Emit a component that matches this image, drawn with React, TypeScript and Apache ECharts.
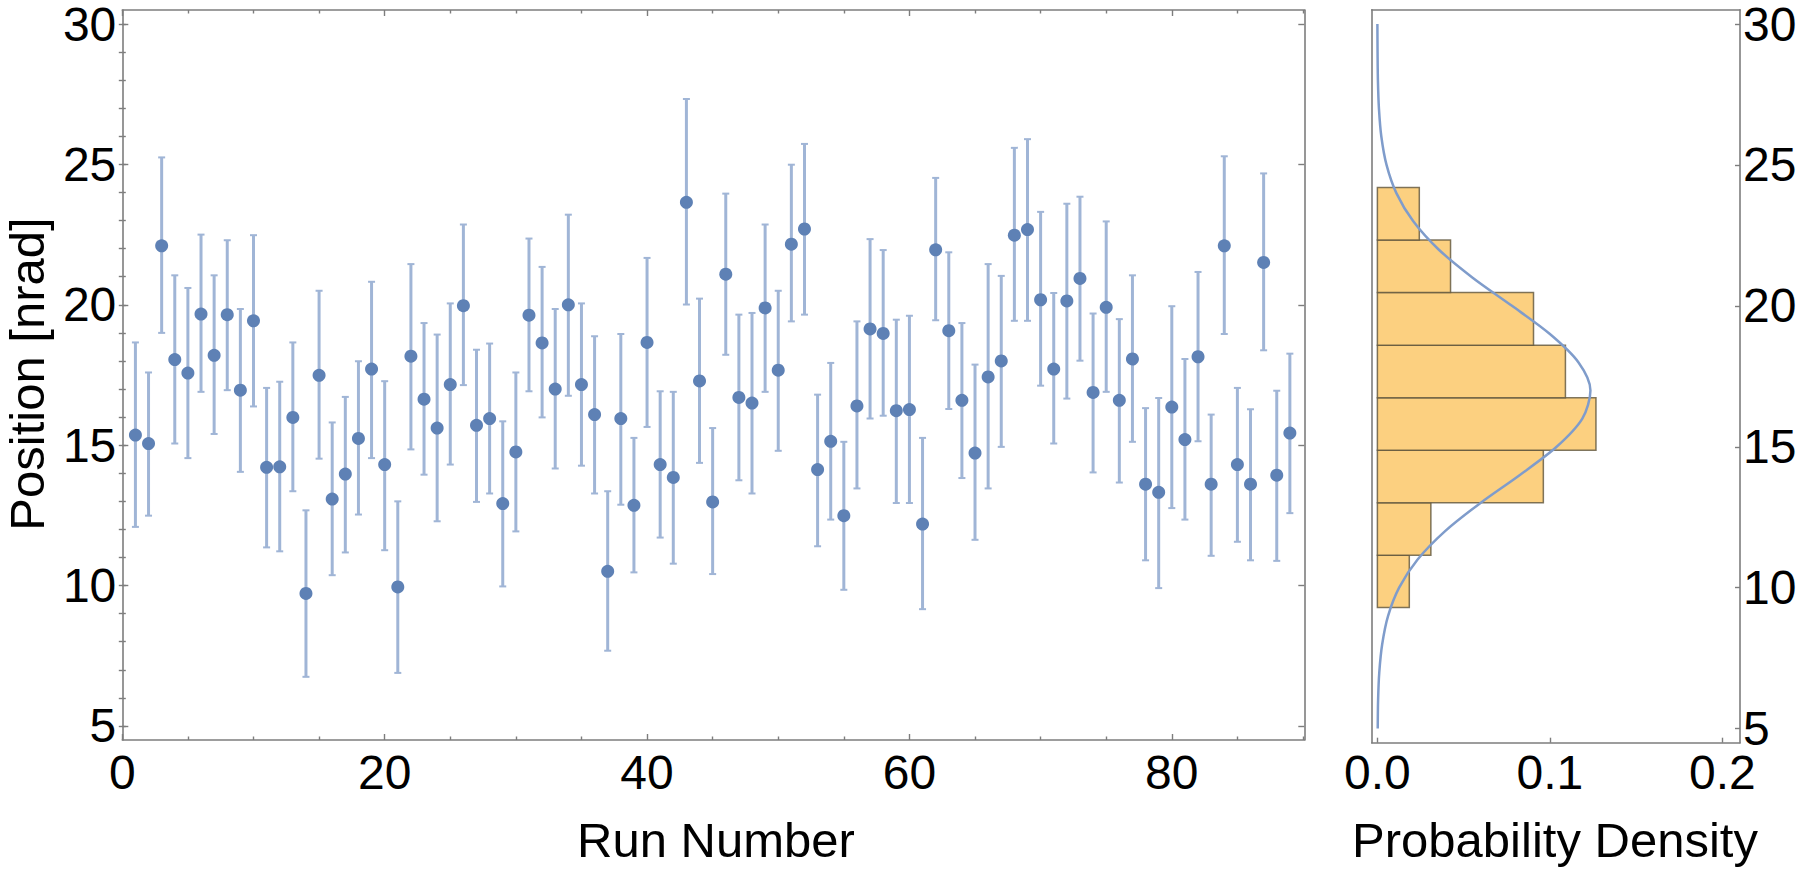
import React, { useEffect, useRef } from "react";
import * as echarts from "echarts";

// ---- Data ----
const runs: number[] = Array.from({ length: 89 }, (_, i) => i + 1);
const position: number[] = [
  15.36, 15.06, 22.1, 18.05, 17.57, 19.67, 18.2, 19.65, 16.96, 19.43,
  14.21, 14.23, 15.99, 9.72, 17.49, 13.08, 13.97, 15.24, 17.71, 14.31,
  9.95, 18.17, 16.64, 15.61, 17.16, 19.97, 15.71, 15.95, 12.92, 14.76,
  19.63, 18.64, 17.0, 20.0, 17.16, 16.09, 10.51, 15.95, 12.86, 18.66,
  14.31, 13.85, 23.65, 17.29, 12.98, 21.09, 16.7, 16.5, 19.89, 17.67,
  22.16, 22.7, 14.13, 15.14, 12.49, 16.4, 19.14, 18.98, 16.23, 16.27,
  12.19, 21.96, 19.08, 16.6, 14.72, 17.43, 18.0, 22.48, 22.68, 20.18,
  17.71, 20.14, 20.94, 16.88, 19.91, 16.6, 18.07, 13.61, 13.32, 16.36,
  15.2, 18.15, 13.61, 22.1, 14.31, 13.61, 21.51, 13.93, 15.43,
];
const errTop: number[] = [
  18.66, 17.59, 25.25, 21.05, 20.6, 22.5, 21.05, 22.3, 19.85, 22.48,
  17.04, 17.26, 18.66, 12.68, 20.5, 15.81, 16.72, 17.99, 20.82, 17.28,
  13.0, 21.45, 19.35, 18.94, 20.05, 22.86, 18.4, 18.62, 15.85, 17.59,
  22.36, 21.35, 19.85, 23.21, 20.05, 18.88, 13.36, 18.96, 15.26, 21.67,
  16.92, 16.9, 27.33, 20.22, 15.61, 23.96, 19.65, 19.71, 22.86, 20.5,
  24.99, 25.73, 16.8, 17.93, 15.12, 19.41, 22.34, 21.95, 19.47, 19.61,
  15.26, 24.52, 21.87, 19.35, 17.87, 21.45, 21.03, 25.59, 25.9, 23.31,
  20.42, 23.6, 23.85, 19.69, 22.97, 19.49, 21.05, 16.32, 16.68, 19.95,
  18.07, 21.17, 16.09, 25.29, 17.04, 16.28, 24.68, 16.94, 18.26,
];
const errBottom: number[] = [
  12.09, 12.49, 19.0, 15.06, 14.54, 16.9, 15.4, 16.96, 14.05, 16.38,
  11.36, 11.22, 13.36, 6.75, 14.52, 10.37, 11.18, 12.53, 14.54, 11.26,
  6.89, 14.85, 13.95, 12.29, 14.31, 17.14, 12.98, 13.28, 9.97, 11.93,
  16.92, 15.99, 14.17, 16.76, 14.27, 13.28, 7.68, 12.88, 10.47, 15.65,
  11.71, 10.78, 20.01, 14.37, 10.41, 18.22, 13.75, 13.28, 16.9, 14.8,
  19.41, 19.65, 11.4, 12.35, 9.85, 13.46, 15.95, 16.05, 12.94, 12.94,
  9.16, 19.45, 16.29, 13.83, 11.63, 13.46, 14.94, 19.43, 19.43, 17.12,
  15.06, 16.66, 18.01, 14.03, 16.9, 13.67, 15.12, 10.9, 9.91, 12.76,
  12.35, 15.14, 11.06, 18.96, 11.56, 10.9, 18.38, 10.88, 12.58,
];

// histogram (bin edges on the position axis, density per bin)
const binEdges: number[] = [9.3, 11.15, 13.01, 14.88, 16.74, 18.6, 20.47, 22.34, 24.2];
const binDensity: number[] = [0.0185, 0.031, 0.0962, 0.1267, 0.109, 0.0905, 0.0424, 0.0243];

// fitted density curve
const curveY: number[] = [5, 6, 7, 8, 9, 10, 11, 12, 13, 14, 15, 16, 17, 18, 19, 20, 21, 22, 23, 24, 25, 26, 27, 28, 29, 30];
const curveDensity: number[] = [
  0.0002, 0.0004, 0.0011, 0.0028, 0.0062, 0.0126, 0.0233, 0.0391, 0.0596, 0.0826,
  0.1039, 0.1188, 0.1235, 0.1165, 0.1, 0.078, 0.0552, 0.0355, 0.0208, 0.011,
  0.0053, 0.0023, 0.0009, 0.0003, 0.0001, 0.0,
];

// tick values
const runMajorTicks: number[] = [0, 20, 40, 60, 80];
const runMinorTicks: number[] = [5, 10, 15, 25, 30, 35, 45, 50, 55, 65, 70, 75, 85, 90];
const posMajorTicks: number[] = [5, 10, 15, 20, 25, 30];
const posMinorTicks: number[] = Array.from({ length: 26 }, (_, i) => i + 5);
const densityTicks: number[] = [0, 0.1, 0.2];

const FONT = "Liberation Sans, Arial, sans-serif";
const FRAME = "#7d7d7d";
const BLUE = "#5E81B5";
const BAR_BLUE = "#a0b5d6";

const G0 = { left: 122.3, top: 10, width: 1182, height: 730 };
const G2 = { left: 1371.7, top: 7.3, width: 368.3, height: 735.4 };

function axisBase(extra: any) {
  return {
    type: "value",
    axisLine: { show: false, lineStyle: { color: FRAME, width: 1.6 } },
    axisTick: { show: false },
    axisLabel: { show: false },
    splitLine: { show: false },
    ...extra,
  };
}

export default function App() {
  const ref = useRef<HTMLDivElement>(null);
  useEffect(() => {
    if (!ref.current) return;
    const chart = echarts.init(ref.current, undefined, { renderer: "svg" });

    const labelStyle = { show: true, fontSize: 48, lineHeight: 40, fontFamily: FONT, color: "#000" };
    const lineOn = { show: true, onZero: false, lineStyle: { color: FRAME, width: 1.6 } };
    const tick = (vals: number[], len: number) => ({
      show: true,
      inside: true,
      length: len,
      customValues: vals,
      lineStyle: { color: FRAME, width: 1.4 },
    });

    const errData = runs.map((r, i) => [r, errBottom[i], errTop[i]]);
    const ptData = runs.map((r, i) => [r, position[i]]);
    const histData = binDensity.map((d, i) => [binEdges[i], binEdges[i + 1], d]);
    const curveData = curveY.map((y, i) => [curveDensity[i], y]);

    const xRun = { min: 0, max: 90.1 };
    const yPos = { min: 4.5, max: 30.5 };
    const xDen = { min: -0.0033, max: 0.2102 };

    const titleStyle = (text: string) => ({
      text, fontSize: 49, fontFamily: FONT, fill: "#000",
      align: "center", verticalAlign: "middle", textAlign: "center", textVerticalAlign: "middle",
    });

    chart.setOption({
      animation: false,
      backgroundColor: "#ffffff",
      grid: [
        { ...G0, containLabel: false },
        { ...G0, containLabel: false },
        { ...G2, containLabel: false },
      ],
      xAxis: [
        axisBase({
          gridIndex: 0, position: "bottom", ...xRun,
          axisLine: lineOn,
          axisTick: tick(runMajorTicks, 6),
          axisLabel: { ...labelStyle, margin: 12, customValues: runMajorTicks },
        }),
        axisBase({
          gridIndex: 0, position: "top", ...xRun,
          axisLine: lineOn,
          axisTick: tick(runMajorTicks, 6),
        }),
        axisBase({ gridIndex: 1, position: "bottom", ...xRun, axisTick: tick(runMinorTicks, 3.5) }),
        axisBase({ gridIndex: 1, position: "top", ...xRun, axisTick: tick(runMinorTicks, 3.5) }),
        axisBase({
          gridIndex: 2, position: "bottom", ...xDen,
          axisLine: lineOn,
          axisTick: tick(densityTicks, 5),
          axisLabel: {
            ...labelStyle, margin: 10, customValues: densityTicks,
            formatter: (v: number) => v.toFixed(1),
          },
        }),
        axisBase({ gridIndex: 2, position: "top", ...xDen, axisLine: lineOn }),
      ],
      yAxis: [
        axisBase({
          gridIndex: 0, position: "left", ...yPos,
          axisLine: lineOn,
          axisTick: tick(posMajorTicks, 6),
          axisLabel: { ...labelStyle, margin: 6, customValues: posMajorTicks },
        }),
        axisBase({
          gridIndex: 0, position: "right", ...yPos,
          axisLine: lineOn,
          axisTick: tick(posMajorTicks, 6),
        }),
        axisBase({ gridIndex: 1, position: "left", ...yPos, axisTick: tick(posMinorTicks, 3.5) }),
        axisBase({ gridIndex: 1, position: "right", ...yPos, axisTick: tick(posMinorTicks, 3.5) }),
        axisBase({ gridIndex: 2, position: "left", ...yPos, axisLine: lineOn }),
        axisBase({
          gridIndex: 2, position: "right", ...yPos,
          axisLine: lineOn,
          axisTick: tick(posMajorTicks, 5),
          axisLabel: { ...labelStyle, margin: 3, customValues: posMajorTicks },
        }),
      ],
      series: [
        {
          type: "custom",
          xAxisIndex: 0,
          yAxisIndex: 0,
          data: errData,
          clip: false,
          renderItem: (_params: any, api: any) => {
            const x = api.value(0);
            const lo = api.coord([x, api.value(1)]);
            const hi = api.coord([x, api.value(2)]);
            const hw = 3.5;
            return {
              type: "group",
              children: [
                { type: "line", shape: { x1: hi[0], y1: hi[1], x2: lo[0], y2: lo[1] }, style: { stroke: BAR_BLUE, lineWidth: 3 } },
                { type: "line", shape: { x1: hi[0] - hw, y1: hi[1], x2: hi[0] + hw, y2: hi[1] }, style: { stroke: BAR_BLUE, lineWidth: 2 } },
                { type: "line", shape: { x1: lo[0] - hw, y1: lo[1], x2: lo[0] + hw, y2: lo[1] }, style: { stroke: BAR_BLUE, lineWidth: 2 } },
              ],
            };
          },
          z: 2,
        },
        {
          type: "scatter",
          xAxisIndex: 0,
          yAxisIndex: 0,
          data: ptData,
          symbol: "circle",
          symbolSize: 13,
          itemStyle: { color: BLUE, opacity: 1 },
          z: 3,
        },
        {
          type: "custom",
          xAxisIndex: 4,
          yAxisIndex: 4,
          data: histData,
          clip: false,
          renderItem: (_params: any, api: any) => {
            const a = api.coord([0, api.value(1)]);
            const b = api.coord([api.value(2), api.value(0)]);
            return {
              type: "rect",
              shape: { x: a[0], y: a[1], width: b[0] - a[0], height: b[1] - a[1] },
              style: { fill: "#fcd080", stroke: "rgba(95,85,60,0.8)", lineWidth: 1.5 },
            };
          },
          z: 2,
        },
        {
          type: "line",
          xAxisIndex: 4,
          yAxisIndex: 4,
          data: curveData,
          smooth: 0.3,
          symbol: "none",
          lineStyle: { color: "#7f9ccb", width: 2.5 },
          z: 3,
        },
      ],
      graphic: [
        { type: "text", x: 716, y: 840, style: titleStyle("Run Number") },
        { type: "text", x: 1555, y: 840, style: titleStyle("Probability Density") },
        { type: "text", x: 27, y: 374, rotation: Math.PI / 2, style: titleStyle("Position [nrad]") },
      ],
    });
    return () => chart.dispose();
  }, []);
  return (
    <div
      ref={ref}
      style={{ position: "fixed", left: 0, top: 0, width: 1800, height: 871, background: "#fff" }}
    />
  );
}
